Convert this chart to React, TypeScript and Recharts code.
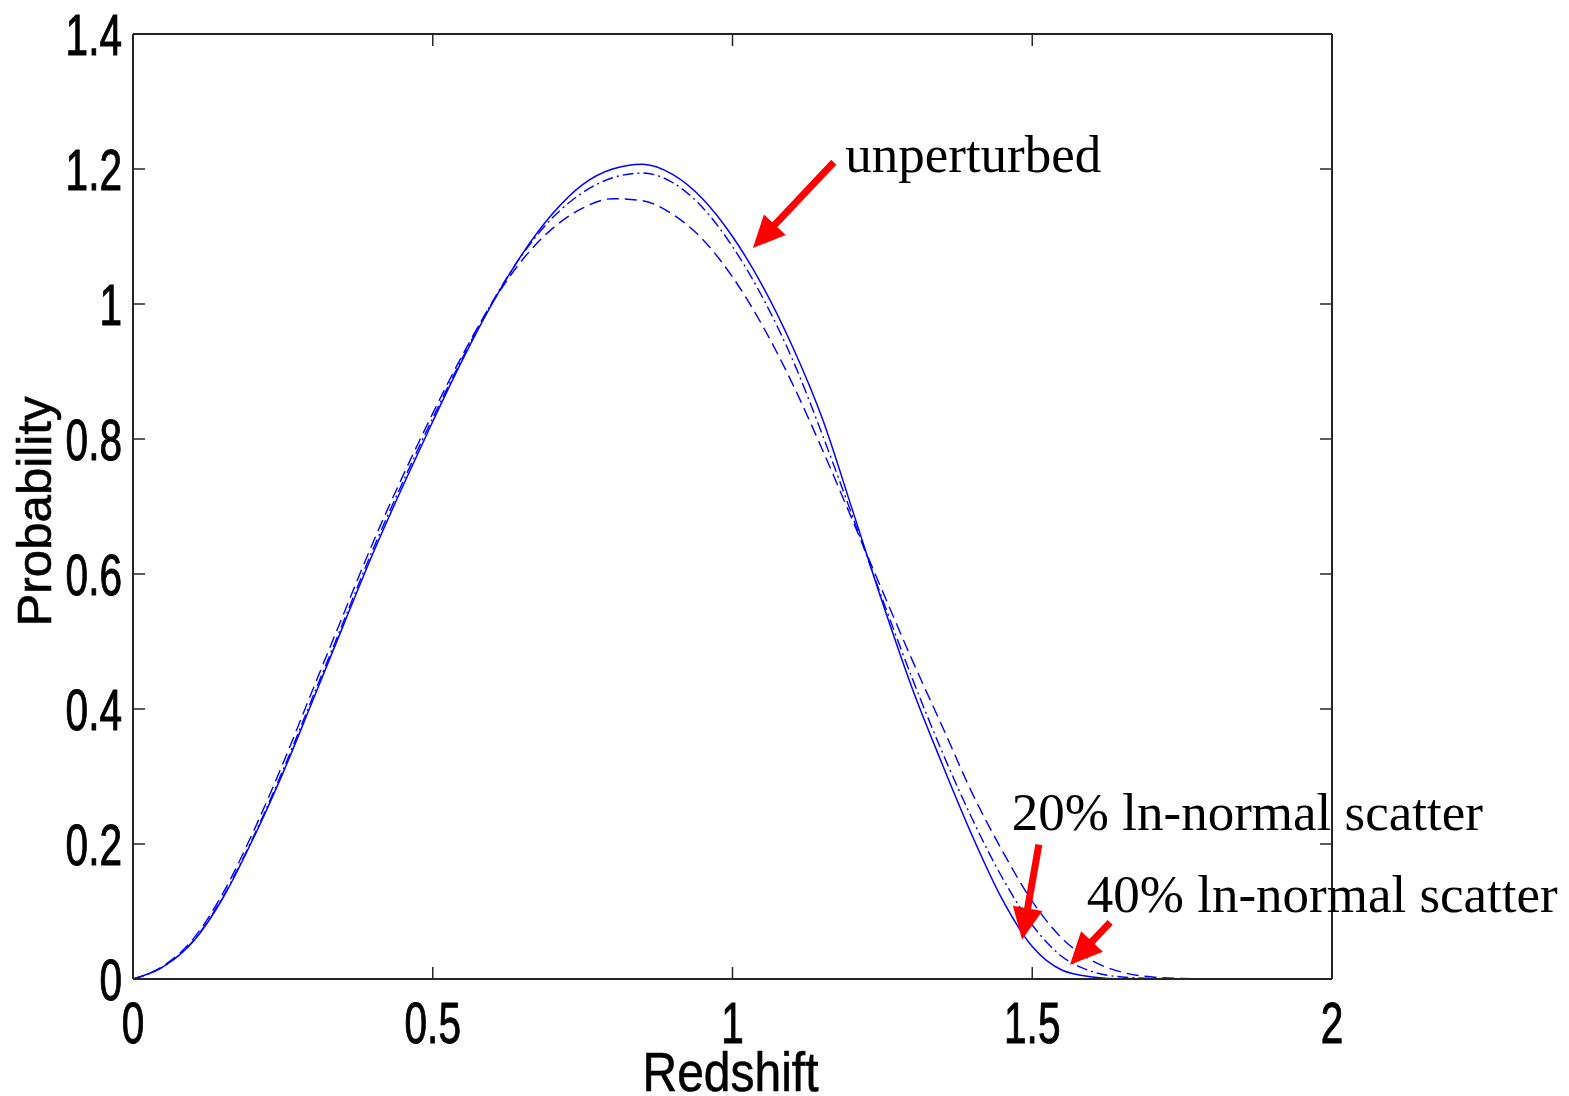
import React from "react";
import { LineChart, Line, XAxis, YAxis, ReferenceLine, ReferenceDot } from "recharts";

// redshift grid, step 0.05
const redshift = [
  0, 0.05, 0.1, 0.15, 0.2, 0.25, 0.3, 0.35, 0.4, 0.45, 0.5, 0.55, 0.6, 0.65, 0.7, 0.75, 0.8, 0.85,
  0.9, 0.95, 1.0, 1.05, 1.1, 1.15, 1.2, 1.25, 1.3, 1.35, 1.4, 1.45, 1.5, 1.55, 1.6, 1.65, 1.7, 1.75,
  1.8, 1.85, 1.9, 1.95, 2.0,
];

const unperturbed = [
  0, 0.018, 0.055, 0.12, 0.207, 0.305, 0.413, 0.522, 0.63, 0.73, 0.826, 0.918, 1.002, 1.075, 1.134,
  1.177, 1.2, 1.207, 1.192, 1.156, 1.1, 1.027, 0.937, 0.83, 0.695, 0.558, 0.43, 0.318, 0.212,
  0.118, 0.048, 0.013, 0.003, 0, 0, 0, 0, 0, 0, 0, 0,
];

const scatter20 = [
  0, 0.018, 0.056, 0.122, 0.209, 0.309, 0.418, 0.527, 0.636, 0.736, 0.831, 0.921, 1.004, 1.074,
  1.128, 1.165, 1.187, 1.194, 1.18, 1.143, 1.085, 1.01, 0.918, 0.806, 0.686, 0.563, 0.445, 0.336,
  0.237, 0.15, 0.08, 0.033, 0.011, 0.003, 0.001, 0, 0, 0, 0, 0, 0,
];

const scatter40 = [
  0, 0.019, 0.059, 0.127, 0.217, 0.319, 0.429, 0.538, 0.646, 0.745, 0.838, 0.925, 1.003, 1.066,
  1.112, 1.142, 1.156, 1.153, 1.133, 1.096, 1.04, 0.968, 0.882, 0.784, 0.68, 0.575, 0.472, 0.374,
  0.275, 0.19, 0.115, 0.06, 0.027, 0.01, 0.003, 0.001, 0, 0, 0, 0, 0,
];

const xTicks = [0, 0.5, 1, 1.5, 2];
const xTickLabels = ["0", "0.5", "1", "1.5", "2"];
const yTicks = [0, 0.2, 0.4, 0.6, 0.8, 1, 1.2, 1.4];
const yTickLabels = ["0", "0.2", "0.4", "0.6", "0.8", "1", "1.2", "1.4"];

// annotation arrows: [tail, tip] in data units, plus where each caption starts
const arrows = [
  { label: "unperturbed", from: [1.169, 1.21], to: [1.034, 1.083], text: [1.188, 1.196] },
  { label: "20% ln-normal scatter", from: [1.511, 0.199], to: [1.483, 0.058], text: [1.466, 0.221] },
  { label: "40% ln-normal scatter", from: [1.63, 0.084], to: [1.563, 0.021], text: [1.591, 0.099] },
];

const data = redshift.map((z, i) => ({
  z,
  unperturbed: unperturbed[i],
  scatter20: scatter20[i],
  scatter40: scatter40[i],
}));

const FRAME = "#262626";
const BLUE = "#0000ff";
const RED = "#ff0000";
const SANS = "'Liberation Sans', Arial, Helvetica, sans-serif";
const SERIF = "'Liberation Serif', 'Times New Roman', serif";
const TICK_LEN = 12;

function BottomTick({ x, y, payload }: any) {
  const label = xTickLabels[xTicks.indexOf(payload.value)] ?? String(payload.value);
  return (
    <g>
      <line x1={x} y1={y} x2={x} y2={y - TICK_LEN} stroke={FRAME} strokeWidth={1.5} />
      <text
        transform={`translate(${x},${y + 64}) scale(0.7,1)`}
        textAnchor="middle"
        fontSize={58}
        fontFamily={SANS}
        fill="#000"
        stroke="#000"
        strokeWidth={1}
      >
        {label}
      </text>
    </g>
  );
}

function LeftTick({ x, y, payload }: any) {
  const label = yTickLabels[yTicks.indexOf(payload.value)] ?? String(payload.value);
  return (
    <g>
      <line x1={x} y1={y} x2={x + TICK_LEN} y2={y} stroke={FRAME} strokeWidth={1.5} />
      <text
        transform={`translate(${x - 11},${y + 21}) scale(0.7,1)`}
        textAnchor="end"
        fontSize={58}
        fontFamily={SANS}
        fill="#000"
        stroke="#000"
        strokeWidth={1}
      >
        {label}
      </text>
    </g>
  );
}

function TopTick({ x, y }: any) {
  return <line x1={x} y1={y} x2={x} y2={y + TICK_LEN} stroke={FRAME} strokeWidth={1.5} />;
}

function RightTick({ x, y }: any) {
  return <line x1={x} y1={y} x2={x - TICK_LEN} y2={y} stroke={FRAME} strokeWidth={1.5} />;
}

function Arrow({ x1, y1, x2, y2 }: any) {
  const dx = x2 - x1;
  const dy = y2 - y1;
  const len = Math.hypot(dx, dy) || 1;
  const ux = dx / len;
  const uy = dy / len;
  const headLen = 32;
  const headHalf = 15;
  const bx = x2 - ux * headLen;
  const by = y2 - uy * headLen;
  const pts = [
    [x2, y2],
    [bx - uy * headHalf, by + ux * headHalf],
    [bx + uy * headHalf, by - ux * headHalf],
  ]
    .map((p) => p.join(","))
    .join(" ");
  return (
    <g>
      <line x1={x1} y1={y1} x2={bx + ux * 2} y2={by + uy * 2} stroke={RED} strokeWidth={7} />
      <polygon points={pts} fill={RED} />
    </g>
  );
}

export default function App() {
  return (
    <div style={{ position: "absolute", left: 0, top: 0, width: 1569, height: 1096, background: "#fff" }}>
      <LineChart
        width={1569}
        height={1096}
        data={data}
        margin={{ top: 24, right: 227, bottom: 57, left: 73 }}
      >
        <XAxis
          dataKey="z"
          type="number"
          domain={[0, 2]}
          ticks={xTicks}
          interval={0}
          height={60}
          tickSize={0}
          tickMargin={0}
          tick={<BottomTick />}
          axisLine={{ stroke: FRAME, strokeWidth: 2 }}
          allowDataOverflow
          label={{
            content: ({ viewBox }: any) => (
              <text
                x={viewBox.x + viewBox.width / 2 - 2}
                y={viewBox.y + 112}
                textAnchor="middle"
                fontSize={56}
                fontFamily={SANS}
                textLength={176}
                lengthAdjust="spacingAndGlyphs"
                fill="#000"
                stroke="#000"
                strokeWidth={0.6}
              >
                Redshift
              </text>
            ),
          }}
        />
        <XAxis
          xAxisId="top"
          orientation="top"
          dataKey="z"
          type="number"
          domain={[0, 2]}
          ticks={xTicks}
          interval={0}
          height={10}
          tickSize={0}
          tickMargin={0}
          tick={<TopTick />}
          axisLine={{ stroke: FRAME, strokeWidth: 2 }}
          allowDataOverflow
        />
        <YAxis
          type="number"
          domain={[0, 1.4]}
          ticks={yTicks}
          interval={0}
          width={60}
          tickSize={0}
          tickMargin={0}
          tick={<LeftTick />}
          axisLine={{ stroke: FRAME, strokeWidth: 2 }}
          allowDataOverflow
          label={{
            content: ({ viewBox }: any) => {
              const cx = viewBox.x + viewBox.width - 82;
              const cy = viewBox.y + viewBox.height / 2 + 5;
              return (
                <text
                  transform={`translate(${cx},${cy}) rotate(-90)`}
                  textAnchor="middle"
                  fontSize={49}
                  fontFamily={SANS}
                  textLength={230}
                  lengthAdjust="spacingAndGlyphs"
                  fill="#000"
                  stroke="#000"
                  strokeWidth={0.6}
                >
                  Probability
                </text>
              );
            },
          }}
        />
        <YAxis
          yAxisId="right"
          orientation="right"
          type="number"
          domain={[0, 1.4]}
          ticks={yTicks}
          interval={0}
          width={10}
          tickSize={0}
          tickMargin={0}
          tick={<RightTick />}
          axisLine={{ stroke: FRAME, strokeWidth: 2 }}
          allowDataOverflow
        />

        <Line
          type="monotone"
          dataKey="scatter40"
          stroke={BLUE}
          strokeWidth={1.4}
          strokeDasharray="12 6"
          dot={false}
          isAnimationActive={false}
        />
        <Line
          type="monotone"
          dataKey="scatter20"
          stroke={BLUE}
          strokeWidth={1.4}
          strokeDasharray="11 4 2 4"
          dot={false}
          isAnimationActive={false}
        />
        <Line
          type="monotone"
          dataKey="unperturbed"
          stroke={BLUE}
          strokeWidth={1.5}
          dot={false}
          isAnimationActive={false}
        />

        {arrows.map((a) => (
          <ReferenceLine
            key={`arrow-${a.label}`}
            segment={[
              { x: a.from[0], y: a.from[1] },
              { x: a.to[0], y: a.to[1] },
            ]}
            shape={(p: any) => <Arrow {...p} />}
          />
        ))}
        {arrows.map((a) => (
          <ReferenceDot
            key={`text-${a.label}`}
            x={a.text[0]}
            y={a.text[1]}
            r={0}
            shape={(p: any) => (
              <text x={p.cx} y={p.cy} fontSize={53} fontFamily={SERIF} fill="#000">
                {a.label}
              </text>
            )}
          />
        ))}
      </LineChart>
    </div>
  );
}
